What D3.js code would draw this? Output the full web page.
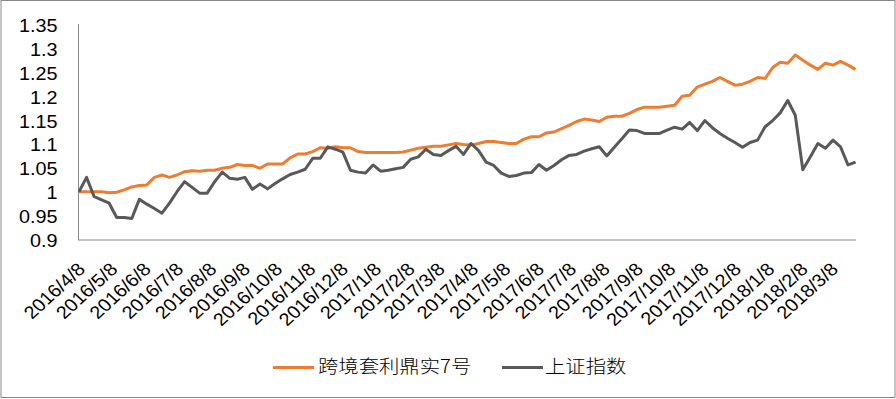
<!DOCTYPE html>
<html><head><meta charset="utf-8">
<script src="https://cdn.jsdelivr.net/npm/d3@7"></script>
<style>html,body{margin:0;padding:0;background:#fff}svg{display:block}</style>
</head><body>
<svg id="c" width="896" height="399"></svg>
<script>
const dates = ["2016-04-08","2016-04-15","2016-04-22","2016-04-29","2016-05-06","2016-05-13","2016-05-20","2016-05-27","2016-06-03","2016-06-10",
"2016-06-17","2016-06-24","2016-07-01","2016-07-08","2016-07-15","2016-07-22","2016-07-29","2016-08-05","2016-08-12","2016-08-19",
"2016-08-26","2016-09-02","2016-09-09","2016-09-16","2016-09-23","2016-09-30","2016-10-07","2016-10-14","2016-10-21","2016-10-28",
"2016-11-04","2016-11-11","2016-11-18","2016-11-25","2016-12-02","2016-12-09","2016-12-16","2016-12-23","2016-12-30","2017-01-06",
"2017-01-13","2017-01-20","2017-01-27","2017-02-03","2017-02-10","2017-02-17","2017-02-24","2017-03-03","2017-03-10","2017-03-17",
"2017-03-24","2017-03-31","2017-04-07","2017-04-14","2017-04-21","2017-04-28","2017-05-05","2017-05-12","2017-05-19","2017-05-26",
"2017-06-02","2017-06-09","2017-06-16","2017-06-23","2017-06-30","2017-07-07","2017-07-14","2017-07-21","2017-07-28","2017-08-04",
"2017-08-11","2017-08-18","2017-08-25","2017-09-01","2017-09-08","2017-09-15","2017-09-22","2017-09-29","2017-10-06","2017-10-13",
"2017-10-20","2017-10-27","2017-11-03","2017-11-10","2017-11-17","2017-11-24","2017-12-01","2017-12-08","2017-12-15","2017-12-22",
"2017-12-29","2018-01-05","2018-01-12","2018-01-19","2018-01-26","2018-02-02","2018-02-09","2018-02-16","2018-02-23","2018-03-02",
"2018-03-09","2018-03-16","2018-03-23","2018-03-30"];

const fund = [1.000,1.000,1.000,1.000,0.998,0.999,1.004,1.010,1.013,1.014,
1.030,1.035,1.030,1.035,1.042,1.044,1.043,1.045,1.045,1.049,
1.051,1.057,1.055,1.055,1.049,1.058,1.058,1.058,1.071,1.079,
1.079,1.084,1.092,1.091,1.094,1.092,1.092,1.084,1.082,1.082,
1.082,1.082,1.082,1.083,1.087,1.091,1.093,1.095,1.095,1.098,
1.101,1.099,1.098,1.101,1.105,1.105,1.103,1.101,1.101,1.110,
1.115,1.115,1.123,1.125,1.132,1.139,1.147,1.152,1.150,1.147,
1.156,1.158,1.158,1.164,1.172,1.177,1.177,1.177,1.179,1.181,
1.200,1.202,1.219,1.225,1.231,1.239,1.231,1.223,1.225,1.231,
1.239,1.237,1.260,1.271,1.269,1.286,1.275,1.265,1.256,1.269,
1.265,1.273,1.265,1.256];

const shIndex = [1.000,1.030,0.990,0.983,0.976,0.946,0.946,0.944,0.984,0.974,
0.965,0.955,0.976,1.000,1.021,1.009,0.997,0.997,1.021,1.041,
1.028,1.026,1.030,1.005,1.016,1.006,1.017,1.027,1.036,1.041,
1.047,1.070,1.070,1.094,1.089,1.083,1.045,1.041,1.039,1.056,
1.043,1.045,1.048,1.051,1.068,1.073,1.089,1.078,1.076,1.086,
1.095,1.078,1.101,1.086,1.062,1.055,1.039,1.032,1.034,1.039,
1.040,1.057,1.045,1.055,1.067,1.076,1.078,1.085,1.090,1.094,
1.075,1.093,1.111,1.129,1.128,1.122,1.122,1.122,1.129,1.135,
1.131,1.145,1.128,1.149,1.134,1.122,1.112,1.103,1.093,1.103,
1.108,1.136,1.149,1.165,1.191,1.160,1.046,1.073,1.101,1.091,
1.108,1.094,1.056,1.062];

const seriesNames = ["跨境套利鼎实7号","上证指数"];
const seriesColors = ["#ED7D31","#595959"];

const xTickLabels = ["2016/4/8","2016/5/8","2016/6/8","2016/7/8","2016/8/8","2016/9/8","2016/10/8","2016/11/8","2016/12/8",
"2017/1/8","2017/2/8","2017/3/8","2017/4/8","2017/5/8","2017/6/8","2017/7/8","2017/8/8","2017/9/8","2017/10/8",
"2017/11/8","2017/12/8","2018/1/8","2018/2/8","2018/3/8"];
const yTicks = [0.9,0.95,1,1.05,1.1,1.15,1.2,1.25,1.3,1.35];

const parse = d3.timeParse("%Y-%m-%d");
const parseTick = d3.timeParse("%Y/%m/%d");
const xd = dates.map(parse);
const SX = 1.1;
const FONT = "'Liberation Sans', Arial, sans-serif";

const svg = d3.select("#c");
svg.append("rect").attr("x",1).attr("y",0.5).attr("width",894).attr("height",397)
  .attr("fill","#fff").attr("stroke","#898989").attr("stroke-width",1);

const x = d3.scaleTime().domain(d3.extent(xd)).range([79, 855.6]);
const y = d3.scaleLinear().domain([0.9,1.35]).range([239.5, 24.5]);

// y axis
const yAxis = svg.append("g").attr("transform","translate(78.5,0)")
  .call(d3.axisLeft(y).tickValues(yTicks).tickSize(0).tickFormat(d => String(d)));
yAxis.select(".domain").attr("stroke","#898989").attr("d","M0,24V240");
yAxis.selectAll("text").attr("x",0).attr("dy","0.36em")
  .attr("transform","translate(-21,0.5) scale(" + SX + ",1)")
  .attr("font-family",FONT).attr("font-size",18).attr("fill","#000").attr("text-anchor","end");

// x axis
const tickDates = xTickLabels.map(parseTick);
const xAxis = svg.append("g").attr("transform","translate(0,240)")
  .call(d3.axisBottom(x).tickValues(tickDates).tickSize(0).tickFormat((d,i) => xTickLabels[i]));
xAxis.select(".domain").attr("stroke","#898989").attr("d","M78,0H856");
xAxis.selectAll(".tick text").attr("y",0).attr("dy","0.35em")
  .attr("transform","translate(2,26) scale(" + SX + ",1) rotate(-45)")
  .attr("text-anchor","end").attr("font-family",FONT).attr("font-size",18).attr("fill","#000");

// lines
const line = d3.line().x((d,i) => x(xd[i])).y(d => y(d));
[fund, shIndex].forEach((s,k) => {
  svg.append("path").datum(s).attr("d",line).attr("fill","none")
    .attr("stroke",seriesColors[k]).attr("stroke-width",3).attr("stroke-linejoin","round");
});

// legend
const legendPos = [{lx:273, tx:318}, {lx:502, tx:545}];
const lg = svg.append("g");
seriesNames.forEach((n,k) => {
  const p = legendPos[k];
  lg.append("line").attr("x1",p.lx).attr("x2",p.lx+41).attr("y1",367.5).attr("y2",367.5)
    .attr("stroke",seriesColors[k]).attr("stroke-width",3);
  lg.append("text").attr("transform","translate(" + p.tx + ",366) scale(" + SX + ",1)")
    .attr("dy","0.36em").attr("font-family","'Noto Sans CJK SC', sans-serif").attr("font-size",18.5)
    .attr("font-weight",300)
    .attr("fill","#000").text(n);
});
</script>
</body></html>
